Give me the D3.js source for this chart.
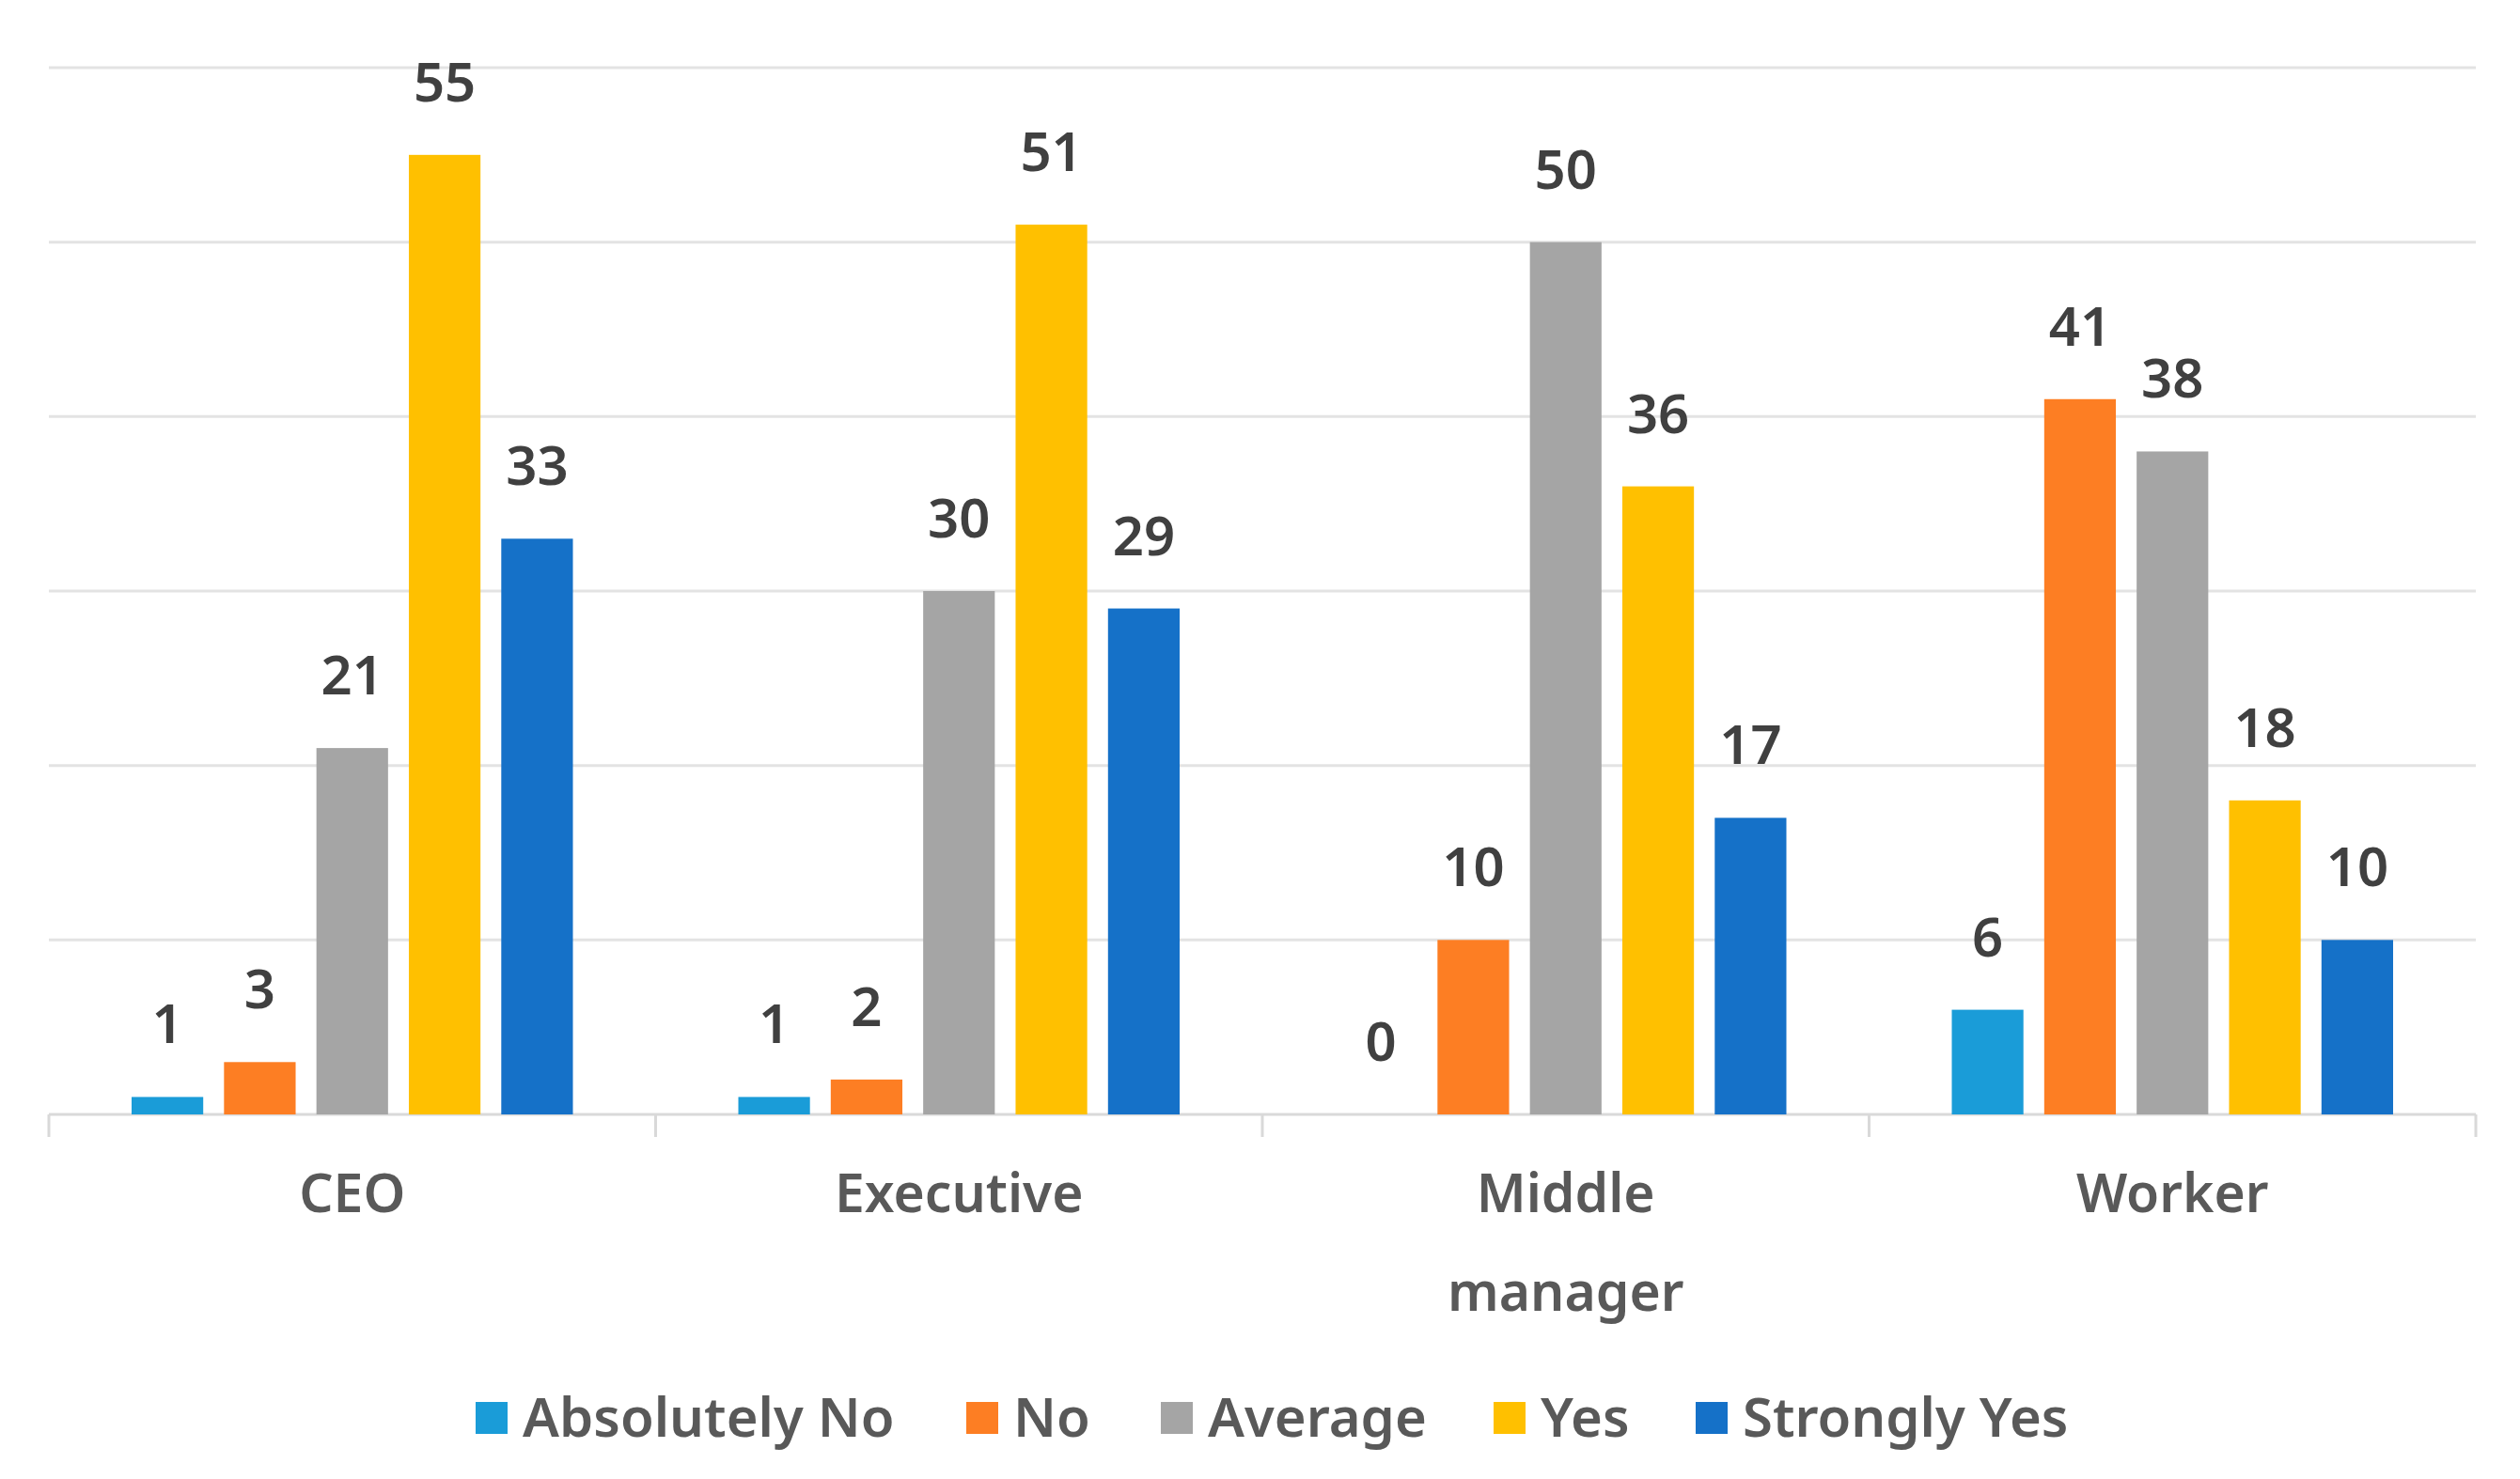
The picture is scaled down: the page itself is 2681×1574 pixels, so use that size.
<!DOCTYPE html>
<html>
<head>
<meta charset="utf-8">
<script src="https://cdn.jsdelivr.net/npm/d3@7"></script>
<style>
  html, body { margin: 0; padding: 0; background: #fff; }
  text { font-family: "Noto Sans", sans-serif; }
</style>
</head>
<body>
<svg></svg>
<script>
const width = 2681,
  height = 1574

const categories = [["CEO"], ["Executive"], ["Middle", "manager"], ["Worker"]]
const seriesNames = ["Absolutely No", "No", "Average", "Yes", "Strongly Yes"]
const seriesColors = ["#1a9cd8", "#fd7e23", "#a5a5a5", "#ffc000", "#1571c8"]
const absolutelyNo = [1, 1, 0, 6]
const no = [3, 2, 10, 41]
const average = [21, 30, 50, 38]
const yes = [55, 51, 36, 18]
const stronglyYes = [33, 29, 17, 10]
const yTicks = [0, 10, 20, 30, 40, 50, 60]

const series = [absolutelyNo, no, average, yes, stronglyYes]

const margin = { top: 72, right: 47, bottom: 388, left: 52 }

const svg = d3.select("svg").attr("width", width).attr("height", height)

const x0 = d3
  .scaleBand()
  .domain(d3.range(categories.length))
  .range([margin.left, width - margin.right])

const x1 = d3
  .scaleBand()
  .domain(d3.range(seriesNames.length))
  .range([88, x0.bandwidth() - 88])
  .paddingInner(0.225)

const y = d3
  .scaleLinear()
  .domain([0, 60])
  .range([height - margin.bottom, margin.top])

// gridlines
svg
  .append("g")
  .selectAll("line")
  .data(yTicks)
  .join("line")
  .attr("x1", margin.left)
  .attr("x2", width - margin.right)
  .attr("y1", d => y(d))
  .attr("y2", d => y(d))
  .attr("stroke", d => (d === 0 ? "#d9d9d9" : "#e3e3e3"))
  .attr("stroke-width", 3)

// category separators below axis
svg
  .append("g")
  .selectAll("line")
  .data(d3.range(categories.length + 1))
  .join("line")
  .attr("x1", d => margin.left + d * x0.bandwidth())
  .attr("x2", d => margin.left + d * x0.bandwidth())
  .attr("y1", y(0))
  .attr("y2", y(0) + 24)
  .attr("stroke", "#d9d9d9")
  .attr("stroke-width", 3)

const groups = svg
  .append("g")
  .selectAll("g")
  .data(categories)
  .join("g")
  .attr("transform", (d, i) => `translate(${x0(i)},0)`)

groups
  .selectAll("rect")
  .data((d, i) => series.map((s, j) => ({ j, v: s[i] })))
  .join("rect")
  .attr("x", d => x1(d.j))
  .attr("width", x1.bandwidth())
  .attr("y", d => y(d.v))
  .attr("height", d => y(0) - y(d.v))
  .attr("fill", d => seriesColors[d.j])

groups
  .selectAll("text.val")
  .data((d, i) => series.map((s, j) => ({ j, v: s[i] })))
  .join("text")
  .attr("class", "val")
  .attr("x", d => x1(d.j) + x1.bandwidth() / 2)
  .attr("y", d => y(d.v) - 57)
  .attr("text-anchor", "middle")
  .attr("font-size", 58)
  .attr("font-weight", 600)
  .attr("fill", "#404040")
  .text(d => d.v)

// category labels
groups
  .append("text")
  .attr("text-anchor", "middle")
  .attr("font-size", 57)
  .attr("font-weight", 600)
  .attr("fill", "#595959")
  .selectAll("tspan")
  .data(d => d)
  .join("tspan")
  .attr("x", x0.bandwidth() / 2)
  .attr("y", (d, k) => 1290 + k * 105)
  .text(d => d)

// legend
const legendX = [506, 1028, 1235, 1589, 1804]
const legend = svg
  .append("g")
  .selectAll("g")
  .data(seriesNames)
  .join("g")
  .attr("transform", (d, i) => `translate(${legendX[i]},1492)`)

legend
  .append("rect")
  .attr("width", 34)
  .attr("height", 34)
  .attr("fill", (d, i) => seriesColors[i])

legend
  .append("text")
  .attr("x", 50)
  .attr("y", 37)
  .attr("font-size", 58)
  .attr("font-weight", 600)
  .attr("fill", "#595959")
  .text(d => d)
</script>
</body>
</html>
